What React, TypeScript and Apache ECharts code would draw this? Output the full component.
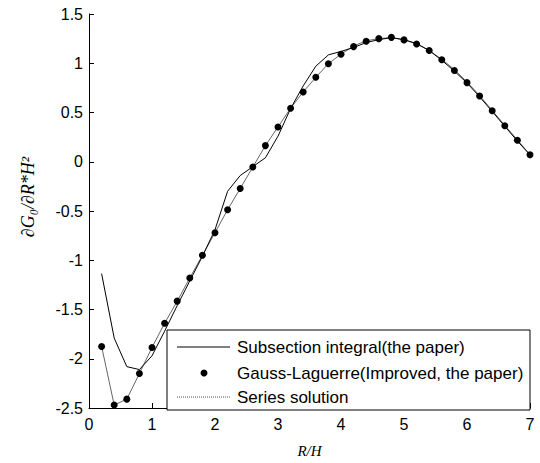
import React, { useEffect, useRef } from "react";
import * as echarts from "echarts";

const xValues = [0.2, 0.4, 0.6, 0.8, 1.0, 1.2, 1.4, 1.6, 1.8, 2.0, 2.2, 2.4, 2.6, 2.8, 3.0, 3.2, 3.4, 3.6, 3.8, 4.0, 4.2, 4.4, 4.6, 4.8, 5.0, 5.2, 5.4, 5.6, 5.8, 6.0, 6.2, 6.4, 6.6, 6.8, 7.0];

const subsectionValues = [-1.136, -1.79, -2.08, -2.11, -1.97, -1.72, -1.46, -1.21, -0.96, -0.69, -0.30, -0.14, -0.05, 0.04, 0.26, 0.54, 0.77, 0.97, 1.085, 1.12, 1.16, 1.21, 1.24, 1.26, 1.24, 1.2, 1.13, 1.03, 0.92, 0.8, 0.66, 0.51, 0.36, 0.21, 0.07];

const gaussValues = [-1.875, -2.47, -2.41, -2.15, -1.885, -1.64, -1.415, -1.18, -0.95, -0.72, -0.487, -0.272, -0.054, 0.164, 0.353, 0.544, 0.709, 0.857, 0.995, 1.092, 1.169, 1.223, 1.25, 1.263, 1.237, 1.196, 1.129, 1.035, 0.927, 0.803, 0.668, 0.517, 0.366, 0.219, 0.071];

const seriesSolutionValues = [-1.875, -2.47, -2.41, -2.15, -1.885, -1.64, -1.415, -1.18, -0.95, -0.72, -0.487, -0.272, -0.054, 0.164, 0.353, 0.544, 0.709, 0.857, 0.995, 1.092, 1.175, 1.228, 1.25, 1.26, 1.237, 1.196, 1.129, 1.04, 0.935, 0.81, 0.672, 0.52, 0.37, 0.222, 0.071];

const legendLabels = [
  "Subsection integral(the paper)",
  "Gauss-Laguerre(Improved, the paper)",
  "Series solution",
];

const pairs = (ys: number[]) => xValues.map((x, i) => [x, ys[i]]);

export default function App() {
  const ref = useRef<HTMLDivElement>(null);
  useEffect(() => {
    document.body.style.margin = "0";
    const chart = echarts.init(ref.current!, null, { renderer: "svg" });
    const sans = "Liberation Sans, Arial, sans-serif";
    const serif = "Liberation Serif, Times New Roman, serif";
    const lx = 167, ly = 330, lw = 363, lh = 80;
    const rows = [347, 373, 397];
    chart.setOption({
      animation: false,
      backgroundColor: "#fff",
      grid: { left: 89, right: 10, top: 14, bottom: 52 },
      xAxis: {
        type: "value",
        min: 0,
        max: 7,
        interval: 1,
        name: "R/H",
        nameLocation: "middle",
        nameGap: 35,
        nameTextStyle: { fontFamily: serif, fontStyle: "italic", fontSize: 15, color: "#000" },
        axisLine: { onZero: false, lineStyle: { color: "#000", width: 1 } },
        axisTick: { inside: true, length: 5, lineStyle: { color: "#000" } },
        axisLabel: { color: "#000", fontSize: 16, fontFamily: sans, margin: 8 },
        splitLine: { show: false },
      },
      yAxis: {
        type: "value",
        min: -2.5,
        max: 1.5,
        interval: 0.5,
        name: "∂G₀/∂R*H²",
        nameLocation: "middle",
        nameGap: 52,
        nameRotate: 90,
        nameTextStyle: { fontFamily: serif, fontStyle: "italic", fontSize: 18, color: "#000", padding: [0, 0, 0, 28] },
        axisLine: { show: true, onZero: false, lineStyle: { color: "#000", width: 1 } },
        axisTick: { show: true, inside: true, length: 5, lineStyle: { color: "#000" } },
        axisLabel: { color: "#000", fontSize: 16, fontFamily: sans, margin: 6 },
        splitLine: { show: false },
      },
      series: [
        {
          name: legendLabels[0],
          type: "line",
          data: pairs(subsectionValues),
          symbol: "none",
          lineStyle: { color: "#000", width: 1 },
          z: 3,
        },
        {
          name: legendLabels[2],
          type: "line",
          data: pairs(seriesSolutionValues),
          symbol: "none",
          lineStyle: { color: "#666", width: 1 },
          z: 2,
        },
        {
          name: legendLabels[1],
          type: "scatter",
          data: pairs(gaussValues),
          symbol: "circle",
          symbolSize: 7,
          itemStyle: { color: "#000", opacity: 1 },
          z: 4,
        },
      ],
      graphic: [
        {
          type: "rect",
          z: 100,
          shape: { x: lx, y: ly, width: lw, height: lh },
          style: { fill: "#fff", stroke: "#000", lineWidth: 1 },
        },
        {
          type: "line",
          z: 101,
          shape: { x1: 177, y1: rows[0], x2: 230, y2: rows[0] },
          style: { stroke: "#000", lineWidth: 1 },
        },
        {
          type: "circle",
          z: 101,
          shape: { cx: 204, cy: rows[1], r: 3.5 },
          style: { fill: "#000" },
        },
        {
          type: "line",
          z: 101,
          shape: { x1: 177, y1: rows[2], x2: 230, y2: rows[2] },
          style: { stroke: "#555", lineWidth: 1, lineDash: [1, 1] },
        },
        ...legendLabels.map((t, i) => ({
          type: "text",
          z: 101,
          x: 237,
          y: rows[i],
          style: { text: t, fill: "#000", font: `17px ${sans}`, verticalAlign: "middle" },
        })),
      ],
    });
    return () => chart.dispose();
  }, []);
  return <div ref={ref} style={{ width: 540, height: 463 }} />;
}
